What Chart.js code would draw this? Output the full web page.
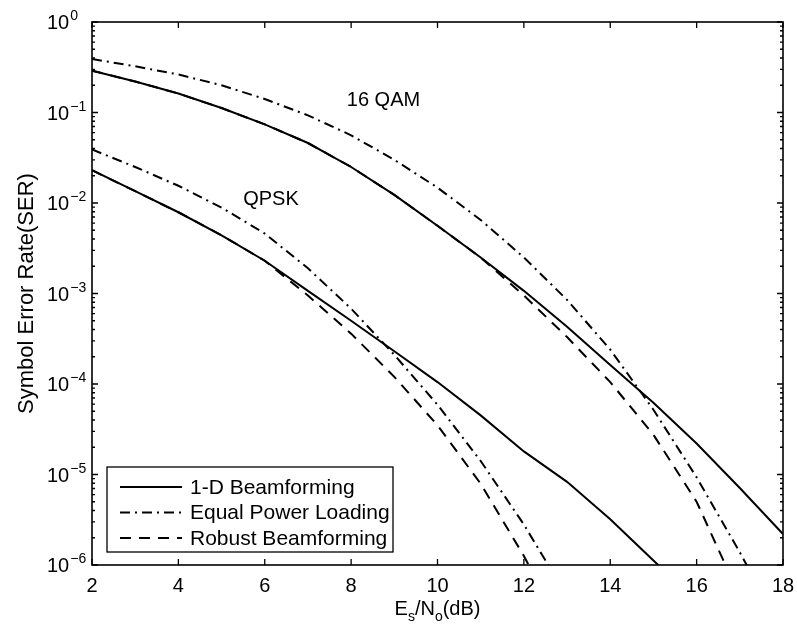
<!DOCTYPE html>
<html>
<head>
<meta charset="utf-8">
<title>Symbol Error Rate</title>
<script src="https://cdn.jsdelivr.net/npm/chart.js@4.4.1/dist/chart.umd.min.js"></script>
<style>
  html, body { margin: 0; padding: 0; background: #fff; }
  #wrap { width: 797px; height: 631px; }
</style>
</head>
<body>
<div id="wrap"><canvas id="serChart" width="797" height="631"></canvas></div>
<script>
// ============================================================
// DATA  (SER vs Es/No in dB)
// ============================================================

const snrDb = [2, 3, 4, 5, 6, 7, 8, 9, 10, 11, 12, 13, 14, 15, 16, 17, 18];

// QPSK
const qpsk1D     = [2.3e-2, 1.35e-2, 7.9e-3, 4.4e-3, 2.3e-3, 1.07e-3, 5.0e-4, 2.3e-4, 1.05e-4, 4.5e-5, 1.8e-5, 8.3e-6, 3.2e-6, 1.12e-6, 4.0e-7];
const qpskEqual  = [3.9e-2, 2.5e-2, 1.55e-2, 8.9e-3, 4.6e-3, 1.9e-3, 6.8e-4, 2.1e-4, 5.9e-5, 1.41e-5, 2.8e-6, 4.5e-7];
const qpskRobust = [2.3e-2, 1.35e-2, 7.9e-3, 4.4e-3, 2.3e-3, 9.5e-4, 3.6e-4, 1.2e-4, 3.5e-5, 7.9e-6, 1.26e-6, 1.6e-7];

// 16 QAM
const qam1D     = [0.29, 0.22, 0.162, 0.112, 0.074, 0.046, 0.025, 1.23e-2, 5.6e-3, 2.5e-3, 1.07e-3, 4.3e-4, 1.62e-4, 6.2e-5, 2.2e-5, 7.1e-6, 2.2e-6];
const qamEqual  = [0.39, 0.324, 0.263, 0.200, 0.141, 0.093, 0.056, 0.030, 1.48e-2, 6.5e-3, 2.5e-3, 8.5e-4, 2.4e-4, 5.2e-5, 9.3e-6, 1.38e-6, 1.8e-7];
const qamRobust = [0.29, 0.22, 0.162, 0.112, 0.074, 0.046, 0.025, 1.23e-2, 5.6e-3, 2.5e-3, 9.5e-4, 3.3e-4, 1.05e-4, 2.75e-5, 5.0e-6, 4.5e-7];

const legendNames = ["1-D Beamforming", "Equal Power Loading", "Robust Beamforming"];
const xTicks      = [2, 4, 6, 8, 10, 12, 14, 16, 18];
const yExponents  = [0, -1, -2, -3, -4, -5, -6];

// annotation text placed in data coordinates
const curveLabels = [
  { text: "16 QAM", x: 7.9, y: 0.137 },
  { text: "QPSK",   x: 5.5, y: 0.0108 },
];


// ============================================================
// STYLE
// ============================================================

const FONT     = "'Liberation Sans', Arial, Helvetica, sans-serif";
const SOLID    = [];
const DASH_DOT = [10, 5, 2, 5];
const DASHED   = [11, 8];
const LINE_W   = 2;


// ============================================================
// HELPERS
// ============================================================

function toPoints(values) {
  return values.map((v, i) => ({ x: snrDb[i], y: v }));
}

function series(label, values, dash) {
  return {
    label:       label,
    data:        toPoints(values),
    borderColor: "#000",
    borderWidth: LINE_W,
    borderDash:  dash,
    pointRadius: 0,
    fill:        false,
    tension:     0,
    clip:        0,
  };
}

function font(px) {
  return px + "px " + FONT;
}


// ============================================================
// PLUGIN: matlab-style box, ticks, labels and legend
// ============================================================

const matlabFrame = {
  id: "matlabFrame",
  afterDatasetsDraw(chart) {
    const { ctx, chartArea: ca, scales } = chart;
    const xs = scales.x, ys = scales.y;

    ctx.save();
    ctx.strokeStyle = "#000";
    ctx.fillStyle   = "#000";
    ctx.setLineDash([]);

    // axes box
    ctx.lineWidth = 1.6;
    ctx.strokeRect(ca.left, ca.top, ca.right - ca.left, ca.bottom - ca.top);

    // inward ticks
    ctx.lineWidth = 1.3;
    ctx.beginPath();
    xTicks.forEach(v => {
      const px = xs.getPixelForValue(v);
      ctx.moveTo(px, ca.bottom); ctx.lineTo(px, ca.bottom - 6);
      ctx.moveTo(px, ca.top);    ctx.lineTo(px, ca.top + 6);
    });
    yExponents.forEach(e => {
      const py = ys.getPixelForValue(Math.pow(10, e));
      ctx.moveTo(ca.left, py);  ctx.lineTo(ca.left + 6, py);
      ctx.moveTo(ca.right, py); ctx.lineTo(ca.right - 6, py);
      if (e < 0) {
        for (let m = 2; m <= 9; m++) {
          const pm = ys.getPixelForValue(m * Math.pow(10, e));
          ctx.moveTo(ca.left, pm);  ctx.lineTo(ca.left + 3, pm);
          ctx.moveTo(ca.right, pm); ctx.lineTo(ca.right - 3, pm);
        }
      }
    });
    ctx.stroke();

    // x tick labels
    ctx.font = font(20);
    ctx.textAlign = "center";
    ctx.textBaseline = "alphabetic";
    xTicks.forEach(v => {
      ctx.fillText(String(v), xs.getPixelForValue(v), ca.bottom + 27);
    });

    // y tick labels: 10^e
    ctx.textAlign = "left";
    yExponents.forEach(e => {
      const py = ys.getPixelForValue(Math.pow(10, e));
      const x0 = ca.left - 45;
      ctx.font = font(20);
      ctx.fillText("10", x0, py + 7);
      const w = ctx.measureText("10").width;
      ctx.font = font(14);
      ctx.fillText(e === 0 ? "0" : "\u2212" + (-e), x0 + w + 1, py - 2);
    });

    // x title: E_s/N_o(dB)
    const parts = [
      { t: "E",    f: 20, dy: 0 },
      { t: "s",    f: 14, dy: 6 },
      { t: "/N",   f: 20, dy: 0 },
      { t: "o",    f: 14, dy: 6 },
      { t: "(dB)", f: 20, dy: 0 },
    ];
    let total = 0;
    parts.forEach(p => { ctx.font = font(p.f); p.w = ctx.measureText(p.t).width; total += p.w; });
    let cx = (ca.left + ca.right) / 2 - total / 2;
    const base = ca.bottom + 50;
    parts.forEach(p => {
      ctx.font = font(p.f);
      ctx.fillText(p.t, cx, base + p.dy);
      cx += p.w;
    });

    // y title (rotated, baseline on the right)
    ctx.save();
    ctx.translate(33, (ca.top + ca.bottom) / 2);
    ctx.rotate(-Math.PI / 2);
    ctx.font = font(22);
    ctx.textAlign = "center";
    ctx.textBaseline = "alphabetic";
    ctx.fillText("Symbol Error Rate(SER)", 0, 0);
    ctx.restore();

    // curve labels
    ctx.font = font(20);
    ctx.textAlign = "left";
    ctx.textBaseline = "middle";
    curveLabels.forEach(l => {
      ctx.fillText(l.text, xs.getPixelForValue(l.x), ys.getPixelForValue(l.y));
    });

    // legend box (lower left, inside axes)
    const lg = { left: ca.left + 15, top: ca.bottom - 98, w: 286, h: 85 };
    ctx.fillStyle = "#fff";
    ctx.fillRect(lg.left, lg.top, lg.w, lg.h);
    ctx.lineWidth = 1.3;
    ctx.strokeRect(lg.left, lg.top, lg.w, lg.h);

    const dashes = [SOLID, DASH_DOT, DASHED];
    ctx.fillStyle = "#000";
    ctx.font = font(21);
    legendNames.forEach((name, i) => {
      const ry = lg.top + 20 + i * 25.5;
      ctx.lineWidth = LINE_W;
      ctx.setLineDash(dashes[i]);
      ctx.beginPath();
      ctx.moveTo(lg.left + 13, ry);
      ctx.lineTo(lg.left + 75, ry);
      ctx.stroke();
      ctx.setLineDash([]);
      ctx.fillText(name, lg.left + 83, ry + 1);
    });

    ctx.restore();
  }
};


// ============================================================
// CHART
// ============================================================

new Chart(document.getElementById("serChart").getContext("2d"), {
  type: "line",
  data: {
    datasets: [
      series("QPSK " + legendNames[0],   qpsk1D,     SOLID),
      series("QPSK " + legendNames[1],   qpskEqual,  DASH_DOT),
      series("QPSK " + legendNames[2],   qpskRobust, DASHED),
      series("16QAM " + legendNames[0],  qam1D,      SOLID),
      series("16QAM " + legendNames[1],  qamEqual,   DASH_DOT),
      series("16QAM " + legendNames[2],  qamRobust,  DASHED),
    ]
  },
  options: {
    responsive: false,
    animation:  false,
    layout: { padding: { left: 92, right: 14, top: 22, bottom: 66 } },
    plugins: {
      legend:  { display: false },
      tooltip: { enabled: false },
    },
    scales: {
      x: { type: "linear", min: 2, max: 18, display: false },
      y: { type: "logarithmic", min: 1e-6, max: 1, display: false },
    }
  },
  plugins: [matlabFrame]
});
</script>
</body>
</html>
